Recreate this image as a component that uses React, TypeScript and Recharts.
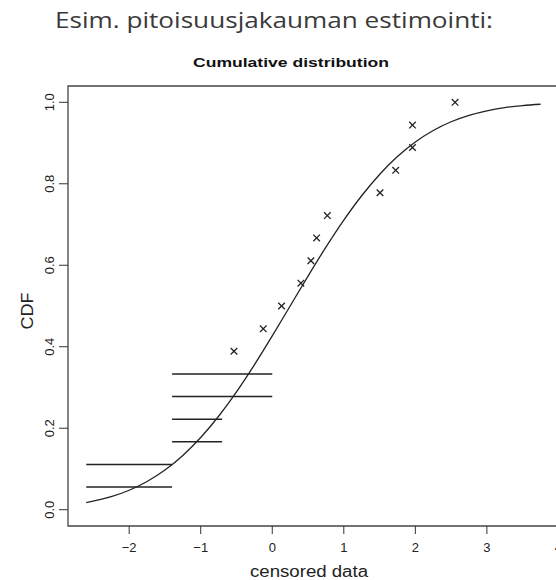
import React from 'react';
import { ComposedChart, Line, Scatter, XAxis, YAxis, ReferenceLine, ReferenceArea } from 'recharts';

// Fitted CDF curve
const curveX = [-2.6, -2.25, -2, -1.75, -1.5, -1.25, -1, -0.75, -0.5, -0.25, 0, 0.25, 0.5, 0.75, 1, 1.25, 1.5, 1.75, 2, 2.25, 2.5, 2.75, 3, 3.25, 3.5, 3.75];
const curveCdf = [0.0174, 0.032, 0.0478, 0.0693, 0.0975, 0.1333, 0.1772, 0.2294, 0.2892, 0.3556, 0.4266, 0.5, 0.5734, 0.6444, 0.7108, 0.7706, 0.8228, 0.8667, 0.9025, 0.9307, 0.9522, 0.968, 0.9792, 0.9869, 0.992, 0.9952];

// Uncensored observations (crosses)
const obsX = [-0.535, -0.126, 0.13, 0.4, 0.54, 0.62, 0.77, 1.506, 1.725, 1.96, 1.96, 2.555];
const obsCdf = [0.389, 0.444, 0.5, 0.556, 0.611, 0.667, 0.722, 0.778, 0.833, 0.889, 0.944, 1.0];

// Censored observations (intervals)
const censLeft = [-2.6, -2.6, -1.4, -1.4, -1.4, -1.4];
const censRight = [-1.4, -1.4, -0.7, -0.7, 0, 0];
const censCdf = [0.0556, 0.111, 0.167, 0.222, 0.278, 0.333];

const xTicks = [-2, -1, 0, 1, 2, 3, 4];
const yTicks = [0, 0.2, 0.4, 0.6, 0.8, 1.0];
const xDomain = [-2.855, 3.98];
const yDomain = [-0.04, 1.04];

const curveData = curveX.map((x, i) => ({ x, y: curveCdf[i] }));
const obsData = obsX.map((x, i) => ({ x, y: obsCdf[i] }));

const INK = '#222';
const FONT = '"Liberation Sans", Arial, sans-serif';

const Cross = (props: any) => {
  const { cx, cy } = props;
  const s = 3.3;
  return (
    <g stroke={INK} strokeWidth={1.3}>
      <line x1={cx - s} y1={cy - s} x2={cx + s} y2={cy + s} />
      <line x1={cx - s} y1={cy + s} x2={cx + s} y2={cy - s} />
    </g>
  );
};

const XTick = (props: any) => {
  const { x, payload } = props;
  const v = payload.value;
  const label = v < 0 ? '\u2212' + Math.abs(v) : String(v);
  return (
    <text x={x} y={552} textAnchor="middle" fontSize={13} fill={INK} fontFamily={FONT}>
      {label}
    </text>
  );
};

const YTick = (props: any) => {
  const { y, payload } = props;
  const label = Number(payload.value).toFixed(1);
  return (
    <text x={54} y={y} transform={`rotate(-90, 54, ${y})`} textAnchor="middle" fontSize={13} fill={INK} fontFamily={FONT}>
      {label}
    </text>
  );
};

export default function App() {
  return (
    <div style={{ position: 'absolute', left: 0, top: 0, width: 556, height: 580, overflow: 'hidden', background: '#fff' }}>
      <ComposedChart width={570} height={580} margin={{ top: 86, right: 13, bottom: 0, left: 0 }}>
        <XAxis
          type="number"
          dataKey="x"
          domain={xDomain}
          ticks={xTicks}
          allowDataOverflow
          axisLine={false}
          tickLine={{ stroke: '#333' }}
          tickSize={8}
          height={54}
          tick={<XTick />}
          interval={0}
        />
        <YAxis
          type="number"
          dataKey="y"
          domain={yDomain}
          ticks={yTicks}
          allowDataOverflow
          axisLine={false}
          tickLine={{ stroke: '#333' }}
          tickSize={9}
          width={68}
          tick={<YTick />}
          interval={0}
        />
        <ReferenceArea x1={xDomain[0]} x2={xDomain[1]} y1={yDomain[0]} y2={yDomain[1]} fill="none" stroke="#444" strokeWidth={1.3} ifOverflow="visible" />
        {censCdf.map((c, i) => (
          <ReferenceLine
            key={i}
            segment={[{ x: censLeft[i], y: c }, { x: censRight[i], y: c }]}
            stroke={INK}
            strokeWidth={1.5}
          />
        ))}
        <Line data={curveData} dataKey="y" type="monotone" stroke={INK} strokeWidth={1.3} dot={false} isAnimationActive={false} />
        <Scatter data={obsData} dataKey="y" shape={<Cross />} isAnimationActive={false} />
      </ComposedChart>
      <svg width={556} height={580} style={{ position: 'absolute', left: 0, top: 0, pointerEvents: 'none' }}>
        <text x={274} y={28} textAnchor="middle" fontSize={22} fill="#3a3a3a" fontFamily='"Open Sans", "Noto Sans", sans-serif' textLength={438} lengthAdjust="spacingAndGlyphs">
          Esim. pitoisuusjakauman estimointi:
        </text>
        <text x={291} y={67} textAnchor="middle" fontSize={13.5} fontWeight="bold" fill="#111" fontFamily={FONT} textLength={196} lengthAdjust="spacingAndGlyphs">
          Cumulative distribution
        </text>
        <text x={309} y={577} textAnchor="middle" fontSize={16} fill={INK} fontFamily={FONT} textLength={118} lengthAdjust="spacingAndGlyphs">
          censored data
        </text>
        <text x={33} y={311} transform="rotate(-90, 33, 311)" textAnchor="middle" fontSize={16} fill={INK} fontFamily={FONT} textLength={37} lengthAdjust="spacingAndGlyphs">
          CDF
        </text>
      </svg>
    </div>
  );
}
